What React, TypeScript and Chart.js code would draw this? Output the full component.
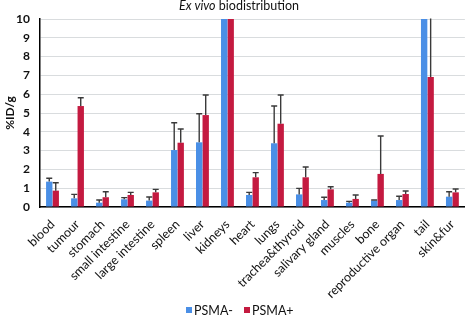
import React, { useEffect, useRef } from "react";
import { Chart, registerables } from "chart.js";

Chart.register(...registerables);

const categories = [
  "blood", "tumour", "stomach", "small intestine", "large intestine", "spleen", "liver", "kidneys",
  "heart", "lungs", "trachea&thyroid", "salivary gland", "muscles", "bone", "reproductive organ", "tail", "skin&fur",
];
const psmaMinus = [1.35, 0.46, 0.23, 0.41, 0.34, 3.03, 3.44, 17, 0.64, 3.39, 0.67, 0.37, 0.23, 0.34, 0.37, 16, 0.55];
const psmaMinusErr = [0.18, 0.21, 0.14, 0.09, 0.19, 1.45, 1.52, 2, 0.14, 1.98, 0.32, 0.15, 0.07, 0.03, 0.2, 3, 0.26];
const psmaPlus = [0.87, 5.37, 0.52, 0.64, 0.78, 3.42, 4.89, 15, 1.58, 4.43, 1.58, 0.94, 0.43, 1.76, 0.69, 6.91, 0.78];
const psmaPlusErr = [0.42, 0.44, 0.29, 0.14, 0.16, 0.73, 1.07, 2, 0.25, 1.53, 0.55, 0.14, 0.21, 2.02, 0.16, 4.5, 0.18];
const yTicks = [0, 1, 2, 3, 4, 5, 6, 7, 8, 9, 10];
const seriesNames = ["PSMA-", "PSMA+"];

const FONT = "Lato, 'Open Sans', sans-serif";
const BLUE = "#4a8fe6";
const RED = "#c41a40";

const errorBarPlugin = {
  id: "errorBars",
  afterDatasetsDraw(chart: any) {
    const ctx = chart.ctx;
    const area = chart.chartArea;
    const yScale = chart.scales.y;
    ctx.save();
    ctx.beginPath();
    ctx.rect(area.left, area.top - 0.5, area.right - area.left, area.bottom - area.top + 1);
    ctx.clip();
    ctx.strokeStyle = "#3a3a3a";
    ctx.lineWidth = 1.4;
    chart.data.datasets.forEach((ds: any, di: number) => {
      const meta = chart.getDatasetMeta(di);
      meta.data.forEach((el: any, i: number) => {
        const v = ds.data[i];
        const e = ds.errors[i];
        const yb = yScale.getPixelForValue(v);
        const yt = yScale.getPixelForValue(v + e);
        ctx.beginPath();
        ctx.moveTo(el.x, yb);
        ctx.lineTo(el.x, yt);
        ctx.moveTo(el.x - 3, yt);
        ctx.lineTo(el.x + 3, yt);
        ctx.stroke();
      });
    });
    ctx.restore();
  },
};

const titleLegendPlugin = {
  id: "titleLegend",
  afterDraw(chart: any) {
    const ctx = chart.ctx;
    ctx.save();
    ctx.fillStyle = "#111";
    ctx.textBaseline = "middle";
    ctx.textAlign = "left";
    const a = "Ex vivo";
    const b = " biodistribution";
    ctx.font = `italic 12.5px ${FONT}`;
    const wa = ctx.measureText(a).width;
    ctx.font = `12.5px ${FONT}`;
    const wb = ctx.measureText(b).width;
    const x0 = 239 - (wa + wb) / 2;
    ctx.font = `italic 12.5px ${FONT}`;
    ctx.fillText(a, x0, 6);
    ctx.font = `12.5px ${FONT}`;
    ctx.fillText(b, x0 + wa, 6);

    // legend
    const colors = chart.data.datasets.map((d: any) => d.backgroundColor);
    const starts = [186, 244];
    ctx.font = `12.5px ${FONT}`;
    seriesNames.forEach((name, i) => {
      ctx.fillStyle = colors[i];
      ctx.fillRect(starts[i], 307, 6, 6);
      ctx.fillStyle = "#111";
      ctx.fillText(name, starts[i] + 8, 310.5);
    });
    ctx.restore();
  },
};

export default function App() {
  const ref = useRef<HTMLCanvasElement>(null);
  useEffect(() => {
    if (!ref.current) return;
    const chart = new Chart(ref.current, {
      type: "bar",
      data: {
        labels: categories,
        datasets: [
          { label: seriesNames[0], data: psmaMinus, errors: psmaMinusErr, backgroundColor: BLUE, categoryPercentage: 0.52, barPercentage: 0.98 } as any,
          { label: seriesNames[1], data: psmaPlus, errors: psmaPlusErr, backgroundColor: RED, categoryPercentage: 0.52, barPercentage: 0.98 } as any,
        ],
      },
      options: {
        animation: false,
        responsive: false,
        maintainAspectRatio: false,
        layout: { padding: { top: 19, left: 0, right: 0, bottom: 0 } },
        plugins: {
          title: { display: false },
          tooltip: { enabled: false },
          legend: { display: false },
        },
        scales: {
          x: {
            grid: { display: false, drawTicks: false },
            border: { display: true, color: "#000", width: 1.5 },
            ticks: {
              autoSkip: false,
              maxRotation: 45,
              minRotation: 45,
              padding: 10,
              color: "#111",
              font: { family: FONT, size: 12.5 },
            },
            afterFit(scale: any) {
              scale.height = 109;
            },
          },
          y: {
            min: 0,
            max: 10,
            afterBuildTicks(scale: any) {
              scale.ticks = yTicks.map((v) => ({ value: v }));
            },
            grid: { color: "#d9dcde", lineWidth: 1, drawTicks: false },
            border: { display: true, color: "#000", width: 1.5 },
            ticks: {
              padding: 10,
              color: "#111",
              font: { family: FONT, size: 12, weight: "bold" },
            },
            title: {
              display: true,
              text: "%ID/g",
              color: "#111",
              padding: { top: 3, bottom: 0 },
              font: { family: FONT, size: 12, weight: "bold" },
            },
            afterFit(scale: any) {
              scale.width = 40;
            },
          },
        },
      },
      plugins: [errorBarPlugin, titleLegendPlugin],
    });
    return () => chart.destroy();
  }, []);
  return (
    <div style={{ position: "absolute", left: 0, top: 0, width: 473, height: 316, background: "#fff" }}>
      <canvas ref={ref} width={473} height={316} style={{ display: "block", width: 473, height: 316 }} />
    </div>
  );
}
